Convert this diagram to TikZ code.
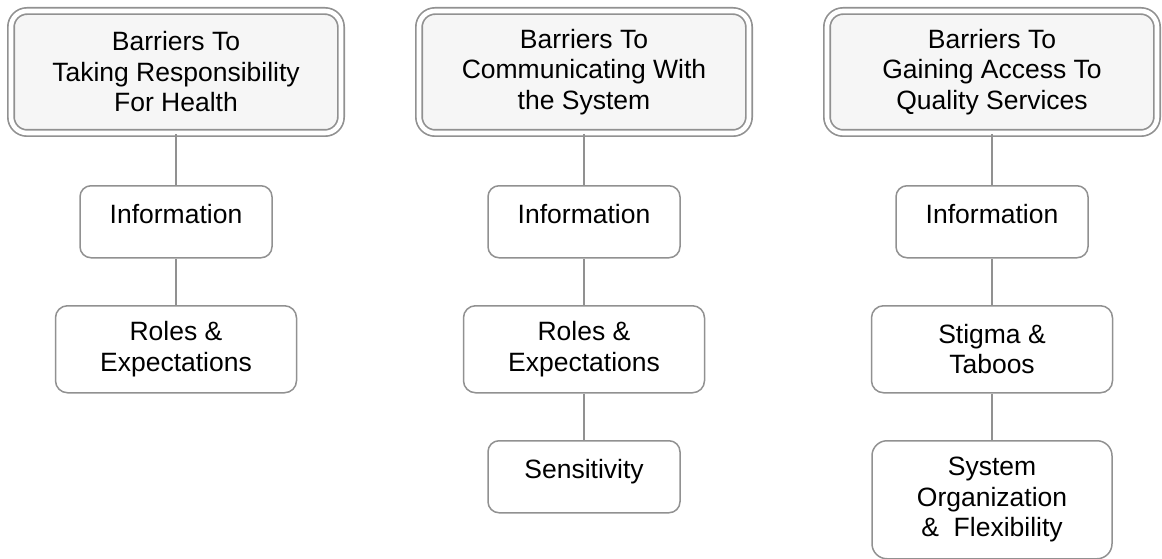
\documentclass[tikz,border=0pt]{standalone}
\usepackage{fontspec}
\setmainfont{Liberation Sans}
\definecolor{linegray}{RGB}{145,145,145}
\definecolor{headfill}{RGB}{246,246,246}

\begin{document}
\begin{tikzpicture}[x=1pt,y=-1pt,
    head/.style={draw=linegray, double=white, line width=1.7pt, double distance=4.6pt, fill=headfill,
        rounded corners=16pt, minimum width=330pt, minimum height=122pt, inner sep=0pt, align=center},
    single/.style={draw=linegray, line width=1.5pt, rounded corners=11pt, minimum width=192pt,
        inner sep=0pt, text height=38pt, text depth=34pt, anchor=north},
    twoline/.style={draw=linegray, line width=1.5pt, rounded corners=12pt, minimum width=241pt,
        minimum height=87pt, inner sep=0pt, align=center, anchor=north},
    link/.style={draw=linegray, line width=1.5pt},
    font=\fontsize{26.5}{30.5}\selectfont]

    \useasboundingbox (0,0) rectangle (1162,559);

	% Top boxes
	\node[head] (head1) at (176,72) {Barriers To\\Taking Responsibility\\For Health};
	\node[head] (head2) at (584,72) {Barriers To\\Communicating With\\the System};
	\node[head] (head3) at (992,72) {Barriers To\\Gaining Access To\\Quality Services};

	% responsibility
	\node[single] (info1) at (176,185) {Information};
	\node[twoline] (roles1) at (176,305) {Roles \&\\Expectations};
	% communicating
	\node[single] (info2) at (584,185) {Information};
	\node[twoline] (roles2) at (584,305) {Roles \&\\Expectations};
	\node[single] (sens2) at (584,440) {Sensitivity};
	% access
	\node[single] (info3) at (992,185) {Information};
	\node[twoline] (stigma3) at (992,305) {Stigma \&\\Taboos};
	\node[twoline, minimum width=240pt, minimum height=118pt, rounded corners=15pt] (org3) at (992,440) {System\\Organization\\\&~~Flexibility};

	% Links
	\draw[link] (head1) -- (info1);
	\draw[link] (info1) -- (roles1);
	\draw[link] (head2) -- (info2);
	\draw[link] (info2) -- (roles2);
	\draw[link] (roles2) -- (sens2);
	\draw[link] (head3) -- (info3);
	\draw[link] (info3) -- (stigma3);
	\draw[link] (stigma3) -- (org3);

\end{tikzpicture}
\end{document}
